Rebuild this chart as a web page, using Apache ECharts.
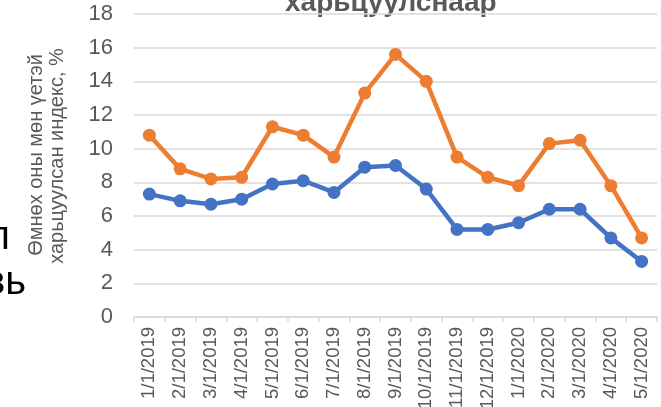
<!DOCTYPE html>
<html>
<head>
<meta charset="utf-8">
<script src="https://cdn.jsdelivr.net/npm/echarts@6/dist/echarts.min.js"></script>
<style>
    html, body { margin: 0; padding: 0; background: #fff; }
    #chart { width: 661px; height: 407px; }
</style>
</head>
<body>
<div id="chart"></div>
<script>
// 月份
var categories = ['1/1/2019', '2/1/2019', '3/1/2019', '4/1/2019', '5/1/2019', '6/1/2019',
    '7/1/2019', '8/1/2019', '9/1/2019', '10/1/2019', '11/1/2019', '12/1/2019',
    '1/1/2020', '2/1/2020', '3/1/2020', '4/1/2020', '5/1/2020'];

// 两条指数线
var orangeValues = [10.8, 8.8, 8.2, 8.3, 11.3, 10.8, 9.5, 13.3, 15.6, 14.0, 9.5, 8.3, 7.8, 10.3, 10.5, 7.8, 4.7];
var blueValues = [7.3, 6.9, 6.7, 7.0, 7.9, 8.1, 7.4, 8.9, 9.0, 7.6, 5.2, 5.2, 5.6, 6.4, 6.4, 4.7, 3.3];

var yTicks = [0, 2, 4, 6, 8, 10, 12, 14, 16, 18];

var fontFamily = '"Liberation Sans", Arial, sans-serif';
var textGrey = '#595959';

var myChart = echarts.init(document.getElementById('chart'));

function lineSeries(name, values, color) {
    return {
        name: name,
        type: 'line',
        data: values,
        symbol: 'circle',
        symbolSize: 13,
        lineStyle: { width: 4.5, color: color },
        itemStyle: { color: color },
        z: name === 'blue' ? 3 : 2
    };
}

// 旋转的纵轴名称
function rotatedText(text, x, y) {
    return {
        type: 'text',
        x: x,
        y: y,
        rotation: Math.PI / 2,
        style: {
            text: text,
            font: '20px ' + fontFamily,
            fill: textGrey,
            align: 'center',
            verticalAlign: 'middle'
        }
    };
}

var option = {
    backgroundColor: '#fff',
    animation: false,
    grid: { left: 134, right: 4, top: 14, bottom: 90, containLabel: false, outerBoundsMode: 'none' },
    xAxis: {
        type: 'category',
        data: categories,
        boundaryGap: true,
        axisLine: { lineStyle: { color: '#d9d9d9', width: 1.5 } },
        axisTick: { show: true, length: 5, lineStyle: { color: '#d9d9d9', width: 1.5 } },
        axisLabel: {
            rotate: 90,
            interval: 0,
            margin: 10,
            color: textGrey,
            fontSize: 18.5,
            fontFamily: fontFamily
        }
    },
    yAxis: {
        type: 'value',
        min: yTicks[0],
        max: yTicks[yTicks.length - 1],
        interval: 2,
        axisLine: { show: false },
        axisTick: { show: false },
        splitLine: { lineStyle: { color: '#d9d9d9', width: 1.5 } },
        axisLabel: {
            color: textGrey,
            fontSize: 22,
            margin: 21,
            fontFamily: fontFamily
        }
    },
    graphic: [
        // 被裁掉的标题
        {
            type: 'text',
            x: 285,
            y: -11,
            style: {
                text: 'харьцуулснаар',
                font: 'bold 28px ' + fontFamily,
                fill: textGrey,
                align: 'left',
                verticalAlign: 'top'
            }
        },
        rotatedText('Өмнөх оны мөн үетэй', 36, 155),
        rotatedText('харьцуулсан индекс, %', 57, 156),
        // 左侧残留文字
        {
            type: 'text',
            x: 10,
            y: 238,
            style: {
                text: 'п',
                font: '40px ' + fontFamily,
                fill: '#000',
                align: 'right',
                verticalAlign: 'middle'
            }
        },
        {
            type: 'text',
            x: 26,
            y: 283,
            style: {
                text: 'вь',
                font: '40px ' + fontFamily,
                fill: '#000',
                align: 'right',
                verticalAlign: 'middle'
            }
        }
    ],
    series: [
        lineSeries('orange', orangeValues, '#ED7D31'),
        lineSeries('blue', blueValues, '#4472C4')
    ]
};

myChart.setOption(option);
</script>
</body>
</html>
